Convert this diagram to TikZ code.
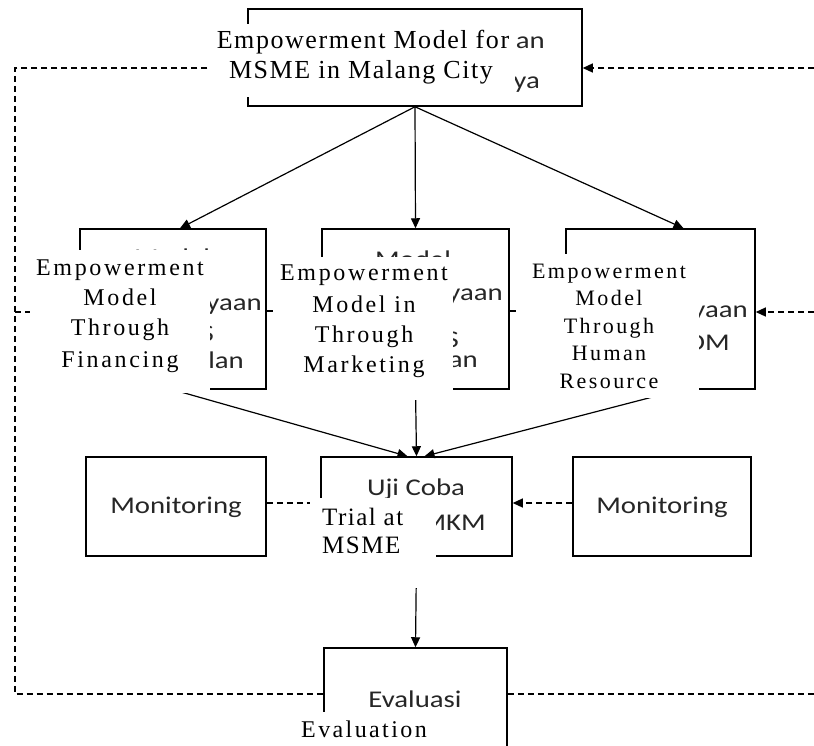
\documentclass[tikz,border=0pt]{standalone}
\usepackage{fontspec}
\setmainfont{Liberation Serif}
\newfontfamily\calib[FakeStretch=1.2]{Carlito}
\newfontfamily\serA[LetterSpace=6]{Liberation Serif}
\newfontfamily\serB[LetterSpace=11]{Liberation Serif}
\newfontfamily\serC[LetterSpace=10]{Liberation Serif}
\usetikzlibrary{arrows.meta,calc}
\begin{document}
\begin{tikzpicture}[x=1pt,y=-1pt,
  box/.style={draw,line width=1.5pt,inner sep=0pt},
  sans/.style={font=\calib\fontsize{24}{28}\selectfont,inner sep=0pt,text=black!85},
  engA/.style={font=\serA\fontsize{26}{30}\selectfont,inner sep=0pt,anchor=base},
  engB/.style={font=\serB\fontsize{24}{30}\selectfont,inner sep=0pt,anchor=base},
  engB3/.style={font=\serB\fontsize{22}{27}\selectfont,inner sep=0pt,anchor=base},
  engT/.style={font=\serA\fontsize{25}{28}\selectfont,inner sep=0pt,anchor=base west},
  engE/.style={font=\serC\fontsize{24}{28}\selectfont,inner sep=0pt,anchor=base},
  arr/.style={-{Triangle[length=10pt,width=9pt]},line width=1.2pt},
  dsh/.style={dash pattern=on 6pt off 4pt,line width=1.2pt},
  darr/.style={dsh,-{Triangle[length=10pt,width=9pt]}},
  cover/.style={fill=white}]
\useasboundingbox (0,0) rectangle (814,745);
\clip (0,0) rectangle (814,745);

% boxes
\node[box,minimum width=334pt,minimum height=97pt] (top) at (415,57.5) {};
\node[box,minimum width=186pt,minimum height=160pt] (b1) at (173,309) {};
\node[box,minimum width=187pt,minimum height=160pt] (b2) at (415.5,309) {};
\node[box,minimum width=189pt,minimum height=160pt] (b3) at (660.5,309) {};
\node[box,minimum width=180pt,minimum height=99pt] (m1) at (176,506.5) {};
\node[box,minimum width=191pt,minimum height=99pt] (tr) at (416.5,506.5) {};
\node[box,minimum width=178pt,minimum height=99pt] (m2) at (662,506.5) {};
\node[box,minimum width=183pt,minimum height=142pt] (ev) at (415.5,719) {};

% free ends of the feedback lines
\coordinate (L1) at (15,68);
\coordinate (L2) at (15,694);
\coordinate (L3) at (15,312);
\coordinate (R1) at (814,68);
\coordinate (R2) at (814,312);
\coordinate (R3) at (814,694);

% solid arrows
\draw[arr] (top.south) -- ([xshift=7pt]b1.north);
\draw[arr] (top.south) -- (b2.north);
\draw[arr] (top.south) -- ([xshift=23pt]b3.north);
\draw[arr] (b1.south) -- ([xshift=-9pt]tr.north);
\draw[arr] (b2.south) -- (tr.north);
\draw[arr] ([xshift=20pt]b3.south) -- ([xshift=8pt]tr.north);
\draw[arr] (tr.south) -- (ev.north);

% dashed lines
\draw[dsh] ([yshift=-10.5pt]top.west) -- (L1) -- (L2) -- ([yshift=25pt]ev.west);
\draw[dsh] (L3) -- ([yshift=-3pt]b1.west);
\draw[dsh] ([yshift=-2pt]b1.east) -- ([yshift=-2pt]b2.west);
\draw[dsh] ([yshift=-2pt]b2.east) -- ([yshift=-2pt]b3.west);
\draw[darr] (R1) -- ([yshift=-10.5pt]top.east);
\draw[darr] (R2) -- ([yshift=-3pt]b3.east);
\draw[dsh] ([yshift=25pt]ev.east) -- (R3);
\draw[darr] ([yshift=3.5pt]m1.east) -- ([yshift=3.5pt]tr.west);
\draw[darr] ([yshift=3.5pt]m2.west) -- ([yshift=3.5pt]tr.east);

% remaining original (Indonesian) text
\node[sans,anchor=base east] (f1) at (545,48) {an};
\node[sans,anchor=base east] (f2) at (540,88) {ya};
\node[sans,anchor=base] (f3) at (172,265) {Model};
\node[sans,anchor=base east] (f4) at (262,310) {yaan};
\node[sans,anchor=base east] (f5) at (214,341) {S};
\node[sans,anchor=base east] (f6) at (244,368) {lan};
\node[sans,anchor=base] (f7) at (413,267) {Model};
\node[sans,anchor=base east] (f8) at (503,300) {yaan};
\node[sans,anchor=base east] (f9) at (459,347) {S};
\node[sans,anchor=base east] (f10) at (478,367) {an};
\node[sans,anchor=base east] (f11) at (748,317) {yaan};
\node[sans,anchor=base east] (f12) at (730,350) {SDM};
\node[sans,anchor=base] (f13) at (416,495) {Uji Coba};
\node[sans,anchor=base east] (f14) at (486,530) {UMKM};
\node[sans,anchor=base] (f15) at (176,513) {Monitoring};
\node[sans,anchor=base] (f16) at (662,513) {Monitoring};
\node[sans,anchor=base] (f17) at (415,707) {Evaluasi};

% white overlays
\fill[cover] (211,24) rectangle (515,97);
\fill[cover] (30,250) rectangle (210,393);
\fill[cover] (275,257) rectangle (453,400);
\fill[cover] (520,254) rectangle (699,398);
\fill[cover] (310,498) rectangle (436,588);
\fill[cover] (298,712) rectangle (440,760);

% English text
\node[engA] (e1) at (363,48) {Empowerment Model for};
\node[engA] (e2) at (361,78) {MSME in Malang City};
\node[engB] (e3) at (120,275) {Empowerment};
\node[engB] (e4) at (120,305) {Model};
\node[engB] (e5) at (120,335) {Through};
\node[engB] (e6) at (120,367) {Financing};
\node[engB] (e7) at (364,280) {Empowerment};
\node[engB] (e8) at (364,312) {Model in};
\node[engB] (e9) at (364,342) {Through};
\node[engB] (e10) at (364,372) {Marketing};
\node[engB3] (e11) at (609,278) {Empowerment};
\node[engB3] (e12) at (609,305) {Model};
\node[engB3] (e13) at (609,333) {Through};
\node[engB3] (e14) at (609,360) {Human};
\node[engB3] (e15) at (609,388) {Resource};
\node[engT] (e16) at (322,525) {Trial at};
\node[engT] (e17) at (322,553) {MSME};
\node[engE] (e18) at (364,737) {Evaluation};
\end{tikzpicture}
\end{document}
